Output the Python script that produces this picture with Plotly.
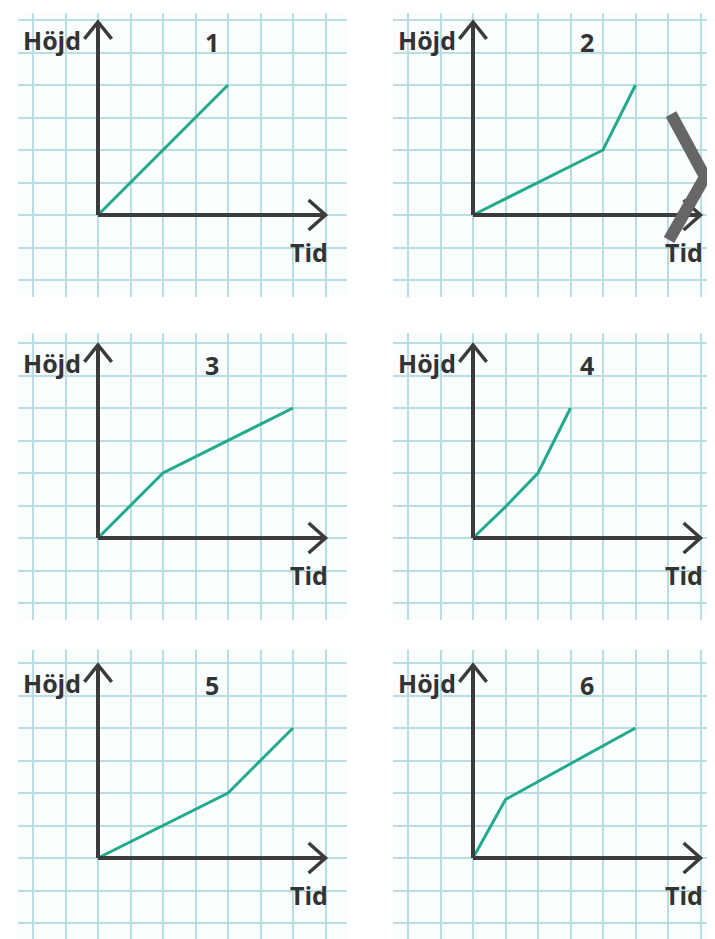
import plotly.graph_objects as go

# ---- data (grid units: Tid along x, Höjd along y) ----
panel_labels = ["1", "2", "3", "4", "5", "6"]
tid_1 = [0, 4]
hojd_1 = [0, 4]
tid_2 = [0, 4, 5]
hojd_2 = [0, 2, 4]
tid_3 = [0, 2, 6]
hojd_3 = [0, 2, 4]
tid_4 = [0, 1, 2, 2.5, 3]
hojd_4 = [0, 0.96, 2, 3, 4]
tid_5 = [0, 2, 4, 5, 6]
hojd_5 = [0, 1, 2, 3, 4]
tid_6 = [0, 1, 5]
hojd_6 = [0, 1.8, 4]
y_axis_label = "Höjd"
x_axis_label = "Tid"

series = [(tid_1, hojd_1), (tid_2, hojd_2), (tid_3, hojd_3),
          (tid_4, hojd_4), (tid_5, hojd_5), (tid_6, hojd_6)]

# ---- layout geometry (screen pixels; page body has an 8px margin) ----
OFF = 8
W, H = 715 - OFF, 939 - OFF
U = 32.5
col_origin = [98, 473]
row_origin = [215, 538, 858]
col_span = [(18, 347), (393, 715)]
row_span = [(13, 297), (333, 620), (650, 939)]

AXIS_COL = "#3b3b3b"
LINE_COL = "#22aa8c"
GRID_COL = "#b9dde3"
FONT = "Open Sans"


def fx(x):
    return (x - OFF) / W


def fy(y):
    return 1 - (y - OFF) / H


fig = go.Figure()
layout = dict(width=W, height=H, margin=dict(l=0, r=0, t=0, b=0),
              paper_bgcolor="white", plot_bgcolor="#fbfefe",
              showlegend=False)
shapes = []
annotations = []

for i, (tx, hy) in enumerate(series):
    r, c = divmod(i, 2)
    n = "" if i == 0 else str(i + 1)
    ox, oy = col_origin[c], row_origin[r]
    (xl, xr), (yt, yb) = col_span[c], row_span[r]
    xr_ = [(xl - ox) / U, (xr - ox) / U]
    yr_ = [(oy - yb) / U, (oy - yt) / U]
    common = dict(showticklabels=False, ticks="", zeroline=False,
                  showline=False, showgrid=True, gridcolor=GRID_COL,
                  gridwidth=1.6, dtick=1, tick0=0, fixedrange=True)
    layout["xaxis" + n] = dict(domain=[max(0, fx(xl)), min(1, fx(xr))],
                               range=xr_, anchor="y" + n, **common)
    layout["yaxis" + n] = dict(domain=[max(0, fy(yb)), min(1, fy(yt))],
                               range=yr_, anchor="x" + n, **common)
    xref, yref = "x" + n, "y" + n

    fig.add_trace(go.Scatter(x=tx, y=hy, mode="lines", xaxis=xref, yaxis=yref,
                             line=dict(color=LINE_COL, width=3),
                             hoverinfo="skip"))

    # axes with open arrowheads
    ax_line = dict(color=AXIS_COL, width=4)
    shapes.append(dict(type="line", xref=xref, yref=yref, x0=0, y0=0,
                       x1=0, y1=5.94, line=ax_line, layer="above"))
    shapes.append(dict(type="line", xref=xref, yref=yref, x0=0, y0=0,
                       x1=7.0, y1=0, line=ax_line, layer="above"))
    shapes.append(dict(type="path", xref=xref, yref=yref,
                       path="M -0.42,5.42 L 0,5.94 L 0.42,5.42",
                       line=dict(color=AXIS_COL, width=3.5), layer="above"))
    shapes.append(dict(type="path", xref=xref, yref=yref,
                       path="M 6.48,0.46 L 7.0,0 L 6.48,-0.46",
                       line=dict(color=AXIS_COL, width=3.5), layer="above"))

    fnt = dict(family=FONT, size=25, color="#333333", weight=700)
    annotations.append(dict(text=y_axis_label, xref=xref, yref=yref,
                            x=-0.47, y=5.4, xanchor="right", yanchor="middle",
                            showarrow=False, font=fnt))
    annotations.append(dict(text=x_axis_label, xref=xref, yref=yref,
                            x=6.5, y=-1.14, xanchor="center", yanchor="middle",
                            showarrow=False, font=fnt))
    annotations.append(dict(text=panel_labels[i], xref=xref, yref=yref,
                            x=3.5, y=5.32, xanchor="center", yanchor="middle",
                            showarrow=False, font=fnt))


# grey navigation chevron overlay (right edge, top row)
def px(x, y):
    return f"{fx(x):.4f},{fy(y):.4f}"


shapes.append(dict(type="path", xref="paper", yref="paper",
                   path=f"M {px(671, 114)} L {px(705, 177)} L {px(669, 240)}",
                   line=dict(color="#666666", width=12), layer="above"))

layout["shapes"] = shapes
layout["annotations"] = annotations
fig.update_layout(**layout)
fig.write_html("out.html")
